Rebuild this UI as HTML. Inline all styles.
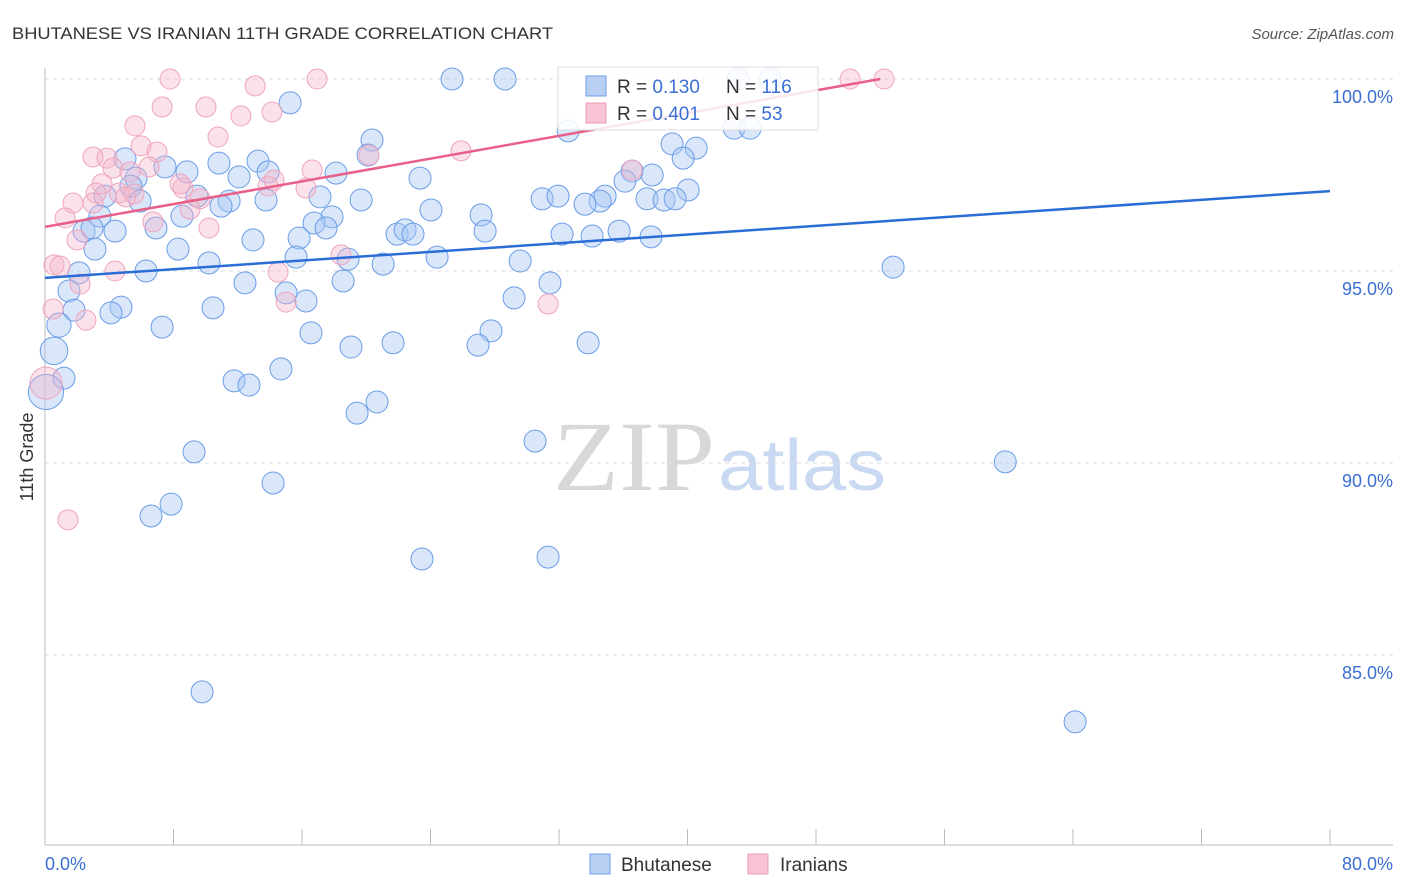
<!DOCTYPE html>
<html><head><meta charset="utf-8">
<style>
body{margin:0;background:#fff;font-family:"Liberation Sans",sans-serif;}
#wrap{position:relative;width:1406px;height:892px;overflow:hidden;}
</style></head>
<body><div id="wrap">
<svg id="svg" width="1406" height="892" xmlns="http://www.w3.org/2000/svg">
<text x="12" y="39" font-size="17" fill="#333" textLength="541" lengthAdjust="spacingAndGlyphs">BHUTANESE VS IRANIAN 11TH GRADE CORRELATION CHART</text>
<text x="1394" y="39" font-size="15" fill="#555" font-style="italic" text-anchor="end">Source: ZipAtlas.com</text>
<text transform="translate(33,457) rotate(-90)" font-size="18" fill="#333" text-anchor="middle">11th Grade</text>
<g>
<text x="553" y="490" font-size="100" font-family="Liberation Serif,serif" fill="#d8d8d8" textLength="162" lengthAdjust="spacingAndGlyphs">ZIP</text>
<text x="718" y="490" font-size="72" fill="#c9d9f2" textLength="168" lengthAdjust="spacingAndGlyphs">atlas</text></g>
<g id="grid"></g><g id="pts"></g><g id="lines"></g>
<g>
<rect x="558" y="67" width="260" height="63" fill="rgba(255,255,255,0.85)" stroke="#ddd"/>
<rect x="586" y="76" width="20" height="20" fill="#b9cff3" stroke="#6a9de8"/>
<rect x="586" y="103" width="20" height="20" fill="#f8c3d3" stroke="#eb9ab5"/>
<text x="617" y="93" font-size="19" fill="#333">R = <tspan fill="#3b6fd4">0.130</tspan></text>
<text x="726" y="93" font-size="19" fill="#333">N = <tspan fill="#3b6fd4">116</tspan></text>
<text x="617" y="120" font-size="19" fill="#333">R = <tspan fill="#3b6fd4">0.401</tspan></text>
<text x="726" y="120" font-size="19" fill="#333">N = <tspan fill="#3b6fd4">53</tspan></text>
</g>
<g>
<rect x="590" y="854" width="20" height="20" fill="#b9cff3" stroke="#6a9de8"/>
<text x="621" y="871" font-size="19" fill="#333">Bhutanese</text>
<rect x="748" y="854" width="20" height="20" fill="#f8c3d3" stroke="#eb9ab5"/>
<text x="780" y="871" font-size="19" fill="#333">Iranians</text>
</g>
</svg></div>
<script>
const yTicks=[100,95,90,85];
const xTickLabels=["0.0%","80.0%"];
const blueTrend=[94.82,97.08];
const pinkTrend=[96.15,100.0];
const pinkTrendEndX=52;
const blue=[[25.34,100],[28.64,100],[43.15,100],[45.14,100],[15.26,99.38],[20.36,98.41],[32.57,98.65],[42.9,98.72],[43.9,98.72],[39.04,98.31],[40.54,98.2],[39.73,97.94],[4.98,97.92],[7.47,97.71],[10.83,97.81],[13.26,97.86],[20.11,98.02],[8.84,97.58],[13.89,97.58],[18.12,97.55],[23.35,97.42],[36.55,97.6],[37.8,97.5],[5.67,97.42],[5.35,97.21],[12.08,97.45],[36.11,97.34],[40.04,97.11],[3.74,96.95],[5.92,96.82],[9.46,96.95],[11.46,96.82],[10.96,96.69],[13.76,96.85],[17.12,96.93],[19.68,96.85],[30.95,96.88],[31.94,96.95],[34.87,96.95],[34.56,96.82],[33.62,96.74],[37.48,96.88],[38.54,96.85],[39.23,96.88],[3.42,96.43],[8.53,96.43],[17.87,96.41],[24.03,96.59],[27.15,96.46],[16.75,96.25],[17.5,96.12],[2.43,96.04],[2.93,96.12],[4.36,96.04],[6.91,96.12],[21.92,95.96],[22.42,96.07],[22.91,95.96],[27.4,96.04],[32.19,95.96],[34.06,95.91],[35.74,96.04],[37.73,95.89],[12.95,95.81],[15.82,95.86],[3.11,95.57],[8.28,95.57],[15.63,95.36],[18.87,95.31],[10.21,95.21],[21.05,95.18],[24.41,95.36],[29.58,95.26],[6.29,95.0],[2.12,94.95],[52.8,95.1],[12.45,94.69],[18.56,94.74],[31.44,94.69],[1.49,94.48],[15.01,94.43],[16.25,94.22],[29.2,94.3],[4.73,94.06],[10.46,94.04],[4.11,93.91],[1.81,93.98],[0.87,93.59,1.1],[7.29,93.54],[16.56,93.39],[27.77,93.44],[0.56,92.92,1.25],[19.05,93.02],[21.67,93.13],[26.96,93.07],[33.81,93.13],[1.18,92.21],[14.69,92.45],[11.77,92.14],[12.7,92.03],[20.67,91.59],[19.43,91.3],[0.06,91.85,1.6],[30.51,90.57],[9.28,90.29],[59.78,90.03],[14.2,89.48],[7.85,88.93],[6.6,88.62],[23.47,87.5],[31.32,87.55],[9.78,84.04],[64.13,83.26]];
const pink=[[7.78,100],[16.94,100],[13.08,99.82],[50.12,100],[52.24,100],[7.29,99.27],[10.02,99.27],[5.6,98.78],[12.2,99.04],[14.13,99.14],[10.77,98.49],[2.99,97.97],[3.86,97.94],[5.98,98.26],[6.97,98.1],[20.17,98.02],[25.9,98.13],[16.63,97.63],[6.48,97.71],[4.23,97.68],[5.29,97.58],[3.55,97.27],[8.59,97.16],[13.89,97.21],[14.26,97.37],[16.25,97.16],[3.18,97.03],[4.61,97.03],[5.04,96.93],[1.74,96.77],[2.99,96.77],[5.54,97.01],[9.65,96.88],[9.03,96.61],[1.25,96.38],[6.72,96.28],[10.21,96.12],[1.99,95.81],[18.43,95.42],[0.56,95.16],[0.93,95.13],[14.51,94.97],[4.36,95.0],[2.18,94.66],[15.01,94.19],[31.32,94.14],[0.5,94.01],[2.55,93.72],[0.06,92.08,1.6],[1.43,88.52],[36.55,97.63],[8.41,97.27]];
const NS="http://www.w3.org/2000/svg";
const X=v=>45+v/80*1285;
const Y=v=>79+(100-v)*38.4;
function mk(t,a,p){const e=document.createElementNS(NS,t);for(const k in a)e.setAttribute(k,a[k]);p.appendChild(e);return e;}
const grid=document.getElementById('grid');
yTicks.forEach(t=>{
 const l=mk('line',{x1:45,x2:1393,y1:Y(t),y2:Y(t),stroke:'#ddd','stroke-dasharray':'4,4'},grid);
 
 
 const tx=mk('text',{x:1393,y:Y(t)+24,'font-size':18,fill:'#3b6fd4','text-anchor':'end'},grid);
 tx.textContent=t.toFixed(1)+'%';
 
 
});
const ax=mk('line',{x1:45,x2:1393,y1:845,y2:845,stroke:'#bbb'},grid);


const ay=mk('line',{x1:45,x2:45,y1:68,y2:845,stroke:'#bbb'},grid);


for(let i=0;i<=10;i++){const t=mk('line',{x1:X(i*8),x2:X(i*8),y1:829,y2:845,stroke:'#bbb'},grid);
 
 }
[[0,'start',45],[80,'end',1393]].forEach((d,i)=>{const t=mk('text',{x:d[2],y:870,'font-size':18,fill:'#3b6fd4','text-anchor':d[1]},grid);t.textContent=xTickLabels[i];
 
 });
const pts=document.getElementById('pts');
blue.forEach(d=>{const c=mk('circle',{cx:X(d[0]),cy:Y(d[1]),r:11*(d[2]||1),fill:'rgba(168,198,242,0.42)',stroke:'#6a9de8','stroke-width':1},pts);
 
 });
pink.forEach(d=>{const c=mk('circle',{cx:X(d[0]),cy:Y(d[1]),r:10*(d[2]||1),fill:'rgba(245,178,200,0.38)',stroke:'#eea4bd','stroke-width':1},pts);
 
 });
const lines=document.getElementById('lines');
const bl=mk('line',{x1:X(0),y1:Y(blueTrend[0]),x2:X(80),y2:Y(blueTrend[1]),stroke:'#2a6dd6','stroke-width':2.5},lines);


const pl=mk('line',{x1:X(0),y1:Y(pinkTrend[0]),x2:X(pinkTrendEndX),y2:Y(pinkTrend[1]),stroke:'#e8608a','stroke-width':2.5},lines);


</script></body></html>
